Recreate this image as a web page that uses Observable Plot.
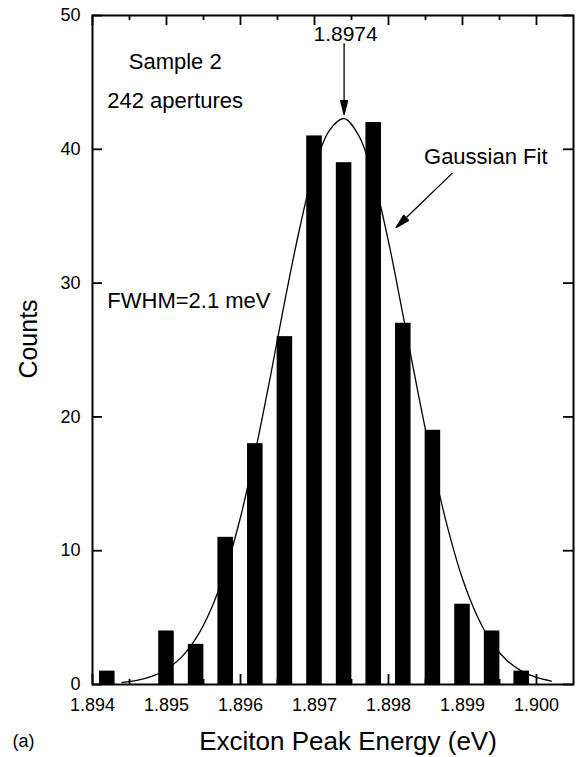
<!DOCTYPE html>
<html><head><meta charset="utf-8">
<script src="https://cdn.jsdelivr.net/npm/d3@7"></script>
<script src="https://cdn.jsdelivr.net/npm/@observablehq/plot@0.6"></script>
<style>
html,body{margin:0;padding:0;background:#fff;}
#chart svg{display:block;}
</style>
</head><body><div id="chart"></div>
<script>
// ---- data ----
const binCenters = [1.8942, 1.8946, 1.8950, 1.8954, 1.8958, 1.8962, 1.8966, 1.8970, 1.8974, 1.8978, 1.8982, 1.8986, 1.8990, 1.8994, 1.8998];
const counts     = [1, 0, 4, 3, 11, 18, 26, 41, 39, 42, 27, 19, 6, 4, 1];

// Gaussian fit curve
const fitX = [1.8944, 1.8946, 1.8948, 1.8950, 1.8952, 1.8954, 1.8956, 1.8958, 1.8960, 1.8962,
              1.8964, 1.8966, 1.8968, 1.8970, 1.8972, 1.8974, 1.8976, 1.8978, 1.8980, 1.8982,
              1.8984, 1.8986, 1.8988, 1.8990, 1.8992, 1.8994, 1.8996, 1.8998, 1.9000, 1.9002];
const fitY = [0.15, 0.30, 0.60, 1.14, 2.03, 3.46, 5.60, 8.59, 12.5, 17.4,
              22.9, 28.7, 34.1, 38.6, 41.4, 42.3, 41.0, 37.8, 33.1, 27.5,
              21.8, 16.4, 11.7, 7.9, 5.1, 3.1, 1.8, 1.0, 0.53, 0.26];

const xMajorTicks = [1.894, 1.895, 1.896, 1.897, 1.898, 1.899, 1.900];
const xMinorTicks = [1.8945, 1.8955, 1.8965, 1.8975, 1.8985, 1.8995];
const yTicks = [0, 10, 20, 30, 40, 50];

const noteText = ["Sample 2", "242 apertures", "FWHM=2.1 meV", "1.8974", "Gaussian Fit"];

// ---- layout ----
const W = 579, H = 757;
const mL = 92, mR = 6, mT = 15, mB = 73;
const innerW = W - mL - mR, innerH = H - mT - mB;
const halfBar = 0.000105;
const majorLen = 10, minorLen = 5;

const bars = binCenters.map((c, i) => ({x1: c - halfBar, x2: c + halfBar, y: counts[i]}));
const fit = fitX.map((x, i) => ({x, y: fitY[i]}));

const notes = [
  {text: noteText[0], x: 1.89449, y: 46.5, anchor: "start"},
  {text: noteText[1], x: 1.89420, y: 43.6, anchor: "start"},
  {text: noteText[2], x: 1.89420, y: 28.7, anchor: "start"},
  {text: noteText[3], x: 1.89742, y: 48.6, anchor: "middle"},
  {text: noteText[4], x: 1.89848, y: 39.4, anchor: "start"}
];

const arrowShape = {
  draw(context, l) {
    const hl = 14, hw = 3.5;
    context.moveTo(0, 0);
    context.lineTo(0, -(l - hl + 1));
    context.moveTo(0, -l);
    context.lineTo(-hw, -l + hl);
    context.lineTo(hw, -l + hl);
    context.closePath();
  }
};

const font = "'Liberation Sans', Arial, Helvetica, sans-serif";

const chart = Plot.plot({
  width: W, height: H,
  marginLeft: mL, marginRight: mR, marginTop: mT, marginBottom: mB,
  style: {fontFamily: font, fontSize: "18px", color: "black", background: "white"},
  x: {domain: [1.894, 1.9005]},
  y: {domain: [0, 50]},
  marks: [
    Plot.rectY(bars, {x1: "x1", x2: "x2", y: "y", fill: "black"}),
    Plot.line(fit, {x: "x", y: "y", curve: "catmull-rom", stroke: "black", strokeWidth: 1.3}),
    Plot.frame({stroke: "black", strokeWidth: 2}),
    // inward ticks
    Plot.tickX(xMajorTicks, {x: d => d, insetTop: innerH - majorLen, strokeWidth: 1.8}),
    Plot.tickX(xMinorTicks, {x: d => d, insetTop: innerH - minorLen, strokeWidth: 1.8}),
    Plot.tickX(xMajorTicks, {x: d => d, insetBottom: innerH - majorLen, strokeWidth: 1.8}),
    Plot.tickX(xMinorTicks, {x: d => d, insetBottom: innerH - minorLen, strokeWidth: 1.8}),
    Plot.tickY(yTicks, {y: d => d, insetRight: innerW - majorLen, strokeWidth: 1.8}),
    Plot.tickY(yTicks, {y: d => d, insetLeft: innerW - majorLen, strokeWidth: 1.8}),
    // tick labels
    Plot.axisX(xMajorTicks, {tickSize: 0, tickPadding: 14, tickFormat: d3.format(".3f"), label: null, fontSize: 18}),
    Plot.axisY(yTicks, {tickSize: 0, tickPadding: 12, label: null, fontSize: 18}),
    // axis titles
    Plot.text(["Exciton Peak Energy (eV)"], {frameAnchor: "bottom", dx: 15, dy: 57, fontSize: 26, textAnchor: "middle", lineAnchor: "middle"}),
    Plot.text(["Counts"], {frameAnchor: "left", dx: -64, dy: -11, rotate: -90, fontSize: 25, textAnchor: "middle", lineAnchor: "middle"}),
    Plot.text(["(a)"], {frameAnchor: "bottom-left", dx: -80, dy: 57, fontSize: 18, textAnchor: "start", lineAnchor: "middle"}),
    // annotations
    Plot.text(notes.filter(d => d.anchor === "start"), {x: "x", y: "y", text: "text", textAnchor: "start", lineAnchor: "middle", fontSize: 22}),
    Plot.text(notes.filter(d => d.anchor === "middle"), {x: "x", y: "y", text: "text", textAnchor: "middle", lineAnchor: "middle", fontSize: 21}),
    Plot.vector([{x: 1.8974, y: 47.9}], {x: "x", y: "y", anchor: "start", length: 71, rotate: 180, shape: arrowShape, stroke: "black", fill: "black", strokeWidth: 1.3}),
    Plot.vector([{x: 1.89886, y: 38.2}], {x: "x", y: "y", anchor: "start", length: 78, rotate: 226, shape: arrowShape, stroke: "black", fill: "black", strokeWidth: 1.3})
  ]
});
document.getElementById("chart").appendChild(chart);
</script>
</body></html>
